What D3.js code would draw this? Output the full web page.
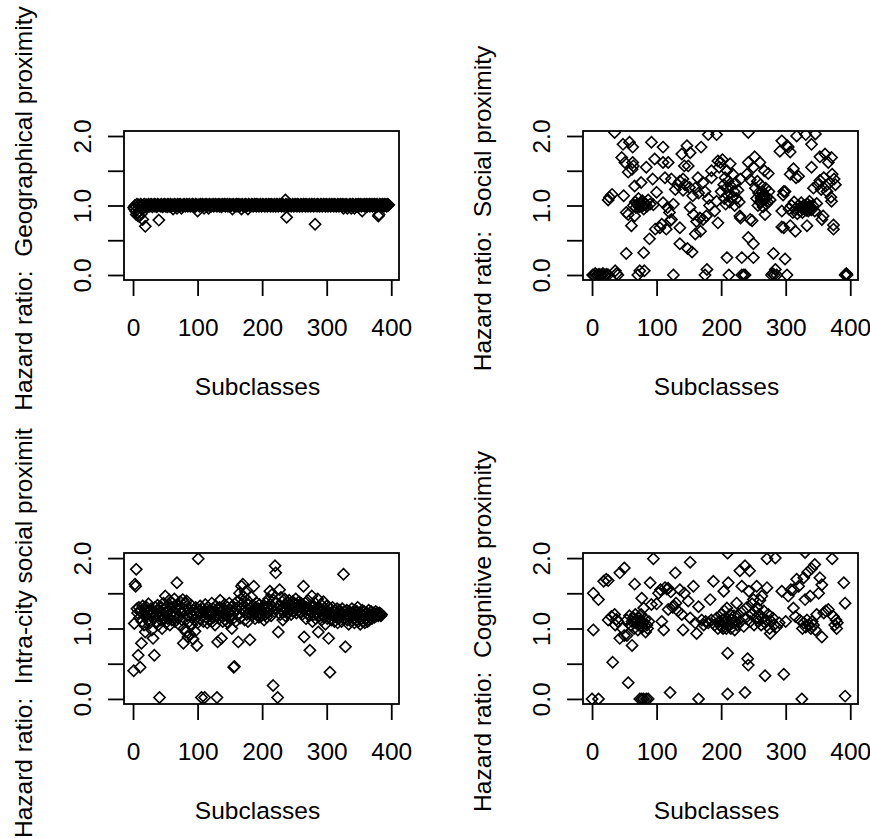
<!DOCTYPE html>
<html>
<head>
<meta charset="utf-8">
<script src="https://cdn.jsdelivr.net/npm/d3@7"></script>
<style>
body{margin:0;background:#fff;}
text{font-family:"Liberation Sans",Arial,sans-serif;fill:#000;white-space:pre;}
</style>
</head>
<body>
<svg id="chart" width="870" height="838"></svg>
<script>
// Data
var xTicks = [0, 100, 200, 300, 400];
var yTicks = [0, 0.5, 1, 1.5, 2];
var yTickLabels = ["0.0", "", "1.0", "", "2.0"];
var xTitle = "Subclasses";

// geographical proximity, one value per subclass 1..396
var geoHR = [
0.97,0.95,1.00,0.92,0.87,1.02,0.90,0.85,1.01,0.85,0.98,1.02,0.88,1.00,0.80,1.01,0.97,1.02,0.70,0.99,
1.01,1.00,0.98,1.02,1.00,0.99,1.01,1.02,1.00,0.98,1.01,1.00,1.02,0.99,1.01,1.00,0.98,1.02,1.01,0.79,
1.00,1.01,0.99,1.02,1.00,0.98,1.01,1.00,1.02,0.99,1.01,1.00,0.98,1.02,1.01,0.99,1.00,1.02,1.00,0.99,
1.01,0.95,1.00,1.02,0.99,1.01,1.00,0.96,1.02,1.00,0.99,1.01,1.02,1.00,0.96,1.01,0.99,1.00,1.02,1.01,
0.99,1.00,1.02,1.01,0.99,1.00,1.02,1.00,0.99,1.01,1.00,1.02,0.99,1.01,1.00,0.98,1.02,1.00,1.01,0.92,
1.01,1.00,0.99,1.02,1.00,1.01,0.99,1.02,1.00,0.96,1.01,1.00,1.02,0.99,1.01,1.00,0.96,1.02,1.00,1.01,
0.99,1.01,1.00,1.02,0.99,1.00,1.01,1.02,1.00,0.99,1.01,1.00,1.02,0.99,1.01,1.00,0.98,1.02,1.00,1.01,
1.00,1.02,0.99,1.01,1.00,1.02,0.99,1.00,1.01,1.02,0.99,1.00,1.01,0.95,1.02,1.00,0.99,1.01,1.00,1.02,
0.99,1.01,1.00,1.02,0.99,1.00,1.01,0.95,1.02,1.00,0.99,1.01,1.00,1.02,0.99,1.01,1.00,0.95,1.02,1.00,
1.01,0.99,1.00,1.02,1.01,0.99,1.00,1.02,1.00,1.01,0.99,1.02,1.00,1.01,0.99,1.00,1.02,1.01,0.99,1.00,
1.02,1.00,1.01,0.99,1.00,1.02,1.01,0.99,1.00,1.02,1.00,1.01,0.99,1.02,1.00,1.01,0.99,1.00,1.02,1.01,
0.99,1.00,1.02,1.01,0.99,1.00,1.02,1.00,1.01,0.99,1.02,1.00,1.01,0.99,1.00,1.08,1.02,0.83,1.00,1.01,
0.99,1.02,1.00,1.01,0.99,1.00,1.02,1.01,0.99,1.00,1.02,1.00,1.01,0.99,1.02,1.00,1.01,0.99,1.00,1.02,
1.01,0.99,1.00,1.02,1.00,1.01,0.99,1.02,1.00,1.01,0.99,1.00,1.02,1.01,0.99,1.00,1.02,1.00,1.01,0.99,
1.02,0.73,1.00,1.01,0.99,1.02,1.00,1.01,0.99,1.00,1.02,1.01,0.99,1.00,1.02,1.00,1.01,0.99,1.02,1.00,
1.01,0.99,1.00,1.02,1.01,0.99,1.00,1.02,1.00,1.01,0.99,1.02,1.00,1.01,0.99,1.00,1.02,1.01,0.99,1.00,
1.02,1.00,1.01,0.99,1.02,0.96,1.00,1.01,0.99,1.02,1.00,0.96,1.01,0.99,1.00,1.02,1.01,0.96,1.00,1.02,
0.99,1.01,0.96,1.00,1.02,0.99,1.01,1.00,1.02,0.99,1.01,1.00,1.02,0.99,0.92,1.01,1.00,1.02,0.99,1.01,
1.00,1.02,0.99,1.01,1.00,1.02,0.99,1.01,1.00,1.02,0.99,1.01,1.00,1.02,0.99,1.01,1.00,1.02,0.99,0.85,
0.87,1.02,1.00,1.01,0.99,1.02,1.00,1.01,0.99,1.02,1.00,1.01,0.99,1.02,1.00,1.01
];

// social proximity: visible points only (subclass, hazard ratio)
var socialPts = [
[1,0],[3,0],[5,0.02],[7,0],[9,0],[11,0.01],[13,0],[15,0],[17,0.02],[19,0],[21,0],[23,0.01],[25,0],
[27,1.12],[25,1.08],[31,1.16],[35,2.05],[36,0.06],[40,0],[38,0.02],
[46,1.69],[48,1.88],[49,1.14],[51,1.62],[53,0.9],[53,0.31],[56,1.48],[56,0.87],[58,1.91],[61,0.71],
[62,1.52],[63,1.84],[63,1.62],[64,1.57],[64,1.0],[66,0.85],[66,1.28],[67,1.05],[68,0.97],[70,1.02],
[71,0],[72,1.1],[72,1.0],[73,0.98],[74,0.06],[75,1.04],[76,1.33],[76,1.02],[77,0.99],[78,1.07],[79,1.0],
[80,0.32],[80,0.95],[81,0.06],[82,1.03],[83,1.01],[84,1.55],[85,0.99],[87,1.08],[89,0.52],[90,1.02],
[92,1.91],[94,1.38],[95,1.01],[97,1.67],[98,0.66],[100,1.19],[105,0.68],[108,0.73],[110,1.84],[110,1.62],
[110,1.04],[113,1.4],[115,0.66],[117,0.97],[118,1.62],[120,0.9],[121,0.78],[123,0.8],[123,1.38],[126,0],
[126,1.02],[129,1.23],[133,1.3],[136,0.68],[136,1.35],[136,0.45],[139,1.74],[141,1.38],[141,1.22],[143,1.57],
[144,1.3],[147,1.86],[148,0.38],[149,1.57],[151,1.26],[152,0.97],[152,1.76],[155,0.33],[156,1.14],[157,0.87],
[160,1.25],[160,0.59],[162,0.77],[164,1.4],[165,1.18],[167,0.82],[168,0.63],[169,1.84],[172,1.33],[172,0.8],
[175,0],[175,1.2],[177,0.85],[178,0.08],[180,1.1],[180,2.02],[182,1.0],[185,1.5],[185,1.4],[190,0.92],
[193,1.06],[193,2.02],[195,1.64],[195,0.75],[197,1.55],[199,1.62],[200,1.2],[202,1.66],[204,1.3],[205,1.1],
[206,1.4],[207,1.02],[208,1.25],[209,0.25],[209,1.5],[210,1.15],[211,1.35],[212,0],[213,1.05],[214,1.6],
[215,1.28],[217,1.12],[218,1.45],[220,1.2],[221,1.0],[222,1.32],[224,1.1],[226,1.22],[228,1.05],[229,0.85],
[230,1.38],[230,0.82],[232,0.25],[232,0],[235,0],[237,0],[240,1.45],[242,1.62],[242,0.54],[242,2.05],
[245,1.37],[245,0.8],[248,0.78],[250,0.45],[250,0.25],[250,1.55],[252,1.7],[253,1.25],[255,1.1],[256,1.35],
[257,1.0],[258,1.18],[260,1.62],[260,1.05],[261,1.3],[262,1.12],[262,1.1],[262,1.05],[263,1.08],[264,1.2],
[264,1.12],[265,0.98],[265,1.15],[266,1.15],[266,1.08],[267,1.5],[268,0.87],[268,1.1],[269,1.25],[270,1.02],
[271,1.12],[272,1.05],[273,1.46],[274,1.2],[276,1.08],[278,0],[280,0.02],[281,0.31],[282,0],[284,0.08],
[286,0],[291,1.78],[294,1.93],[294,0.92],[294,0.69],[296,1.15],[297,1.2],[297,0.68],[299,0.23],[299,1.2],
[302,0],[302,1.86],[304,1.84],[305,0.95],[307,1.77],[307,1.45],[307,0.71],[309,1.0],[311,0.9],[312,1.53],
[313,1.05],[315,0.63],[315,0.95],[316,1.4],[317,2.0],[318,0.88],[320,1.0],[320,1.42],[322,0.92],[324,1.04],
[325,0.97],[326,0.9],[326,0.95],[328,1.0],[328,0.97],[330,0.94],[330,0.96],[331,2.02],[332,0.98],[332,0.93],
[333,0.71],[334,1.02],[334,0.97],[335,0.92],[336,0.96],[336,0.99],[337,1.06],[338,0.99],[338,0.95],[340,1.88],
[340,1.55],[340,0.94],[342,1.0],[343,1.25],[345,0.92],[346,2.03],[348,1.03],[350,1.3],[353,1.7],[353,1.36],
[355,1.23],[356,0.8],[358,0.85],[359,1.4],[361,1.74],[362,1.28],[364,1.2],[366,1.62],[368,1.33],[370,1.12],
[371,1.06],[371,1.69],[372,1.45],[374,0.66],[374,0.72],[375,1.38],[377,1.3],[392,0],[394,0.02],[395,0]
];

// intra-city social proximity, one value per subclass 1..385
var intraHR = [
0.40,1.07,1.63,1.60,1.84,1.28,1.22,0.62,1.30,1.15,0.45,1.25,0.79,1.10,1.32,1.20,1.05,1.27,0.95,1.18,
1.30,1.22,1.12,1.35,1.25,1.08,1.18,1.28,0.98,1.22,0.86,1.15,0.62,1.30,1.20,1.10,1.26,1.33,1.05,1.18,
0.02,1.24,1.12,1.30,1.00,1.20,1.36,1.15,1.28,1.46,1.08,1.22,1.32,1.14,1.25,1.40,1.05,1.20,1.30,1.12,
1.36,1.24,1.18,1.42,1.10,1.28,1.20,1.65,1.34,1.15,1.26,1.05,1.38,1.22,1.30,1.12,1.41,0.79,1.00,1.25,
1.35,0.95,1.39,1.18,0.88,1.28,1.10,0.92,1.22,1.33,1.05,1.18,0.85,1.26,1.12,0.96,1.30,1.20,0.76,1.08,
1.99,1.25,1.14,1.32,1.22,0.02,1.18,1.28,1.10,1.24,0.02,1.34,1.16,1.22,1.08,1.30,1.20,1.12,1.26,1.18,
1.22,1.36,1.10,1.28,1.16,1.24,1.05,1.32,1.20,0.02,0.81,1.26,1.14,1.30,1.40,1.18,0.86,1.24,1.10,1.28,
1.20,1.34,1.12,1.25,1.18,1.30,1.08,1.22,1.36,1.15,1.26,1.20,1.00,1.32,1.14,0.45,0.46,1.24,1.10,1.28,
1.38,1.20,0.81,1.30,1.50,1.15,1.42,1.60,1.35,1.63,1.25,1.45,1.12,1.52,1.30,1.20,1.40,1.10,1.34,1.22,
0.84,1.28,1.45,1.18,1.32,1.22,1.60,1.26,1.14,1.30,1.24,1.36,1.20,1.28,1.16,1.34,1.22,1.26,1.18,1.30,
1.24,1.32,1.12,1.28,1.20,1.36,1.16,1.30,1.22,1.42,1.26,1.53,1.34,1.18,1.48,1.30,0.19,1.40,1.24,1.89,
1.79,1.36,1.28,0.02,0.95,1.32,1.55,1.20,1.44,1.26,1.38,1.12,1.30,1.24,1.42,1.18,1.34,1.28,1.36,1.22,
1.30,1.40,1.26,1.34,1.20,1.32,1.38,1.24,1.30,1.36,1.28,1.42,1.22,1.34,1.30,1.26,1.38,1.32,1.24,1.36,
1.30,1.20,1.34,1.60,0.88,1.28,1.36,1.14,1.30,1.22,1.40,1.26,1.18,0.69,1.32,1.24,1.46,1.10,1.30,1.20,
1.26,1.36,1.14,1.28,1.22,1.42,0.95,1.30,1.18,1.24,1.34,1.12,1.26,1.20,1.38,1.16,1.28,1.06,1.22,1.32,
1.14,1.24,0.86,1.20,0.38,1.28,1.12,1.22,1.30,1.18,1.24,1.10,1.26,1.20,1.16,1.28,1.08,1.22,1.14,1.26,
1.18,1.22,1.10,1.28,1.20,1.77,1.14,1.24,0.74,1.18,1.26,1.12,1.20,1.06,1.24,1.16,1.22,1.10,1.28,1.18,
1.14,1.22,1.08,1.26,1.18,1.12,1.24,1.30,1.10,1.20,1.16,1.06,1.22,1.14,1.26,1.10,1.18,1.24,1.08,1.20,
1.14,1.22,1.10,1.18,1.26,1.12,1.20,1.16,1.24,1.14,1.20,1.18,1.22,1.16,1.20,1.24,1.18,1.20,1.22,1.18,
1.20,1.22,1.20,1.18,1.20
];

// cognitive proximity: visible points only (subclass, hazard ratio)
var cognitivePts = [
[0,0],[2,1.5],[2,0.98],[10,0],[10,1.41],[18,1.67],[22,1.7],[25,1.68],[25,1.12],[30,1.17],
[32,0.52],[35,1.2],[36,1.05],[38,1.13],[40,1.1],[43,0.86],[43,1.79],[47,1.0],[50,1.86],[50,0.9],
[54,1.12],[54,0.9],[56,0.23],[58,1.18],[60,1.05],[62,1.1],[62,0.76],[64,1.15],[65,1.0],[66,1.63],
[67,1.2],[68,1.08],[70,1.12],[71,0.98],[72,1.05],[73,1.15],[74,0],[75,1.1],[76,1.2],[77,1.43],
[77,0],[78,1.02],[79,1.08],[80,1.29],[80,0],[82,1.13],[83,0.95],[84,0],[85,1.05],[86,1.0],
[87,0],[88,1.1],[90,1.65],[92,1.34],[95,1.99],[100,1.35],[103,1.5],[106,1.55],[108,1.1],[111,0.98],
[113,1.58],[116,1.56],[118,1.57],[118,1.27],[121,0.09],[122,1.52],[125,1.3],[127,1.32],[129,1.79],[130,1.36],
[133,1.25],[136,1.55],[139,1.2],[141,0.98],[143,1.5],[149,1.39],[152,1.94],[152,1.15],[157,1.6],[160,1.08],
[162,0.93],[165,1.31],[165,0],[170,1.12],[173,1.05],[176,1.1],[180,1.08],[183,1.41],[185,1.12],[188,1.67],
[190,1.05],[193,1.15],[195,1.0],[197,1.1],[198,1.05],[200,1.2],[201,1.02],[202,1.12],[203,1.0],[204,1.53],
[205,1.25],[206,1.08],[207,1.15],[208,1.0],[209,1.29],[210,0.65],[210,0.07],[210,2.07],[211,1.65],[212,1.1],
[213,1.05],[214,1.2],[215,1.0],[216,1.12],[218,1.08],[220,1.18],[221,0.98],[222,1.1],[224,1.36],[225,1.05],
[227,1.2],[229,1.82],[230,1.1],[232,1.6],[234,1.25],[235,1.03],[237,0.09],[237,1.89],[238,1.15],[240,1.3],
[241,0.57],[242,0.48],[243,1.53],[244,1.82],[245,1.1],[247,1.2],[248,1.35],[250,1.41],[251,1.05],[252,1.25],
[254,1.15],[255,1.6],[256,1.3],[258,1.1],[259,1.2],[260,1.4],[262,1.05],[263,1.46],[264,1.15],[266,1.25],
[268,0.33],[268,1.08],[270,1.12],[271,1.58],[271,1.99],[273,1.2],[275,1.0],[276,0.93],[278,1.1],[280,1.15],
[282,1.05],[284,2.0],[286,1.02],[290,1.08],[294,1.53],[297,0.35],[300,1.1],[304,1.46],[308,1.55],[312,1.29],
[312,1.55],[315,1.17],[317,1.7],[320,1.6],[322,1.12],[325,0],[326,1.0],[328,1.72],[328,1.08],[330,1.41],
[330,2.08],[331,1.02],[333,1.12],[334,1.8],[336,1.05],[338,1.46],[339,1.0],[340,1.85],[341,1.1],[343,1.05],
[345,1.91],[346,0.98],[348,1.2],[351,1.5],[353,1.72],[356,1.62],[356,0.88],[359,1.22],[362,1.25],[366,1.27],
[372,1.99],[374,1.17],[376,1.05],[378,1.12],[379,1.0],[380,1.08],[390,1.65],[392,1.36],[392,0.04]
];

// turn the per-subclass arrays into points
var geoPts = geoHR.map(function(v, i){ return [i + 1, v]; });
var intraPts = intraHR.map(function(v, i){ return [i + 1, v]; });

var svg = d3.select("#chart");

var panels = [
  {pts: geoPts, label: "Hazard ratio:  Geographical proximity", left: 124, top: 131, h: 149},
  {pts: socialPts, label: "Hazard ratio:  Social proximity", left: 583, top: 131, h: 149},
  {pts: intraPts, label: "Hazard ratio:  Intra-city social proximit", left: 124, top: 553, h: 151, anchorBottom: 838},
  {pts: cognitivePts, label: "Hazard ratio:  Cognitive proximity", left: 583, top: 553, h: 151}
];

var plotW = 275;
var r = 5.6; // diamond half size
var fs = 24.5;

panels.forEach(function(p, i){
  var x = d3.scaleLinear().domain([-14, 412]).range([p.left, p.left + plotW]);
  var y = d3.scaleLinear().domain([-0.072, 2.072]).range([p.top + p.h, p.top]);

  svg.append("clipPath").attr("id", "clip" + i)
    .append("rect")
    .attr("x", p.left).attr("y", p.top)
    .attr("width", plotW).attr("height", p.h);

  // points (pch 5 diamonds)
  svg.append("g").attr("clip-path", "url(#clip" + i + ")")
    .selectAll("path").data(p.pts).enter().append("path")
    .attr("d", "M0," + (-r) + "L" + r + ",0L0," + r + "L" + (-r) + ",0Z")
    .attr("transform", function(d){ return "translate(" + x(d[0]) + "," + y(d[1]) + ")"; })
    .attr("fill", "none")
    .attr("stroke", "#000")
    .attr("stroke-width", 1.6);

  // box
  svg.append("rect")
    .attr("x", p.left).attr("y", p.top)
    .attr("width", plotW).attr("height", p.h)
    .attr("fill", "none").attr("stroke", "#000").attr("stroke-width", 1.8);

  // x axis
  var gx = svg.append("g")
    .attr("transform", "translate(0," + (p.top + p.h) + ")")
    .call(d3.axisBottom(x).tickValues(xTicks).tickSize(16).tickSizeOuter(0));
  gx.select(".domain").remove();
  gx.selectAll("line").attr("stroke-width", 1.8);
  gx.selectAll("text")
    .attr("y", 47).attr("dy", "0.35em")
    .style("font-size", fs + "px")
    .attr("font-family", null);

  // y axis, labels parallel to axis
  var gy = svg.append("g")
    .attr("transform", "translate(" + p.left + ",0)")
    .call(d3.axisLeft(y).tickValues(yTicks).tickSize(16).tickSizeOuter(0)
      .tickFormat(function(d, k){ return yTickLabels[k]; }));
  gy.select(".domain").remove();
  gy.selectAll("line").attr("stroke-width", 1.8);
  gy.selectAll("text")
    .attr("x", null).attr("dy", "0.35em")
    .attr("text-anchor", "middle")
    .attr("transform", "translate(-42,0) rotate(-90)")
    .style("font-size", fs + "px")
    .attr("font-family", null);

  // axis titles
  svg.append("text")
    .attr("x", p.left + plotW / 2 - 4)
    .attr("y", p.top + p.h + 106)
    .attr("dy", "0.35em")
    .attr("text-anchor", "middle")
    .style("font-size", fs + "px")
    .text(xTitle);

  var ly = p.anchorBottom ? p.anchorBottom : p.top + p.h / 2 + 3;
  svg.append("text")
    .attr("transform", "translate(" + (p.left - 101) + "," + ly + ") rotate(-90)")
    .attr("dy", "0.35em")
    .attr("text-anchor", p.anchorBottom ? "start" : "middle")
    .style("font-size", fs + "px")
    .text(p.label);
});
</script>
</body>
</html>
